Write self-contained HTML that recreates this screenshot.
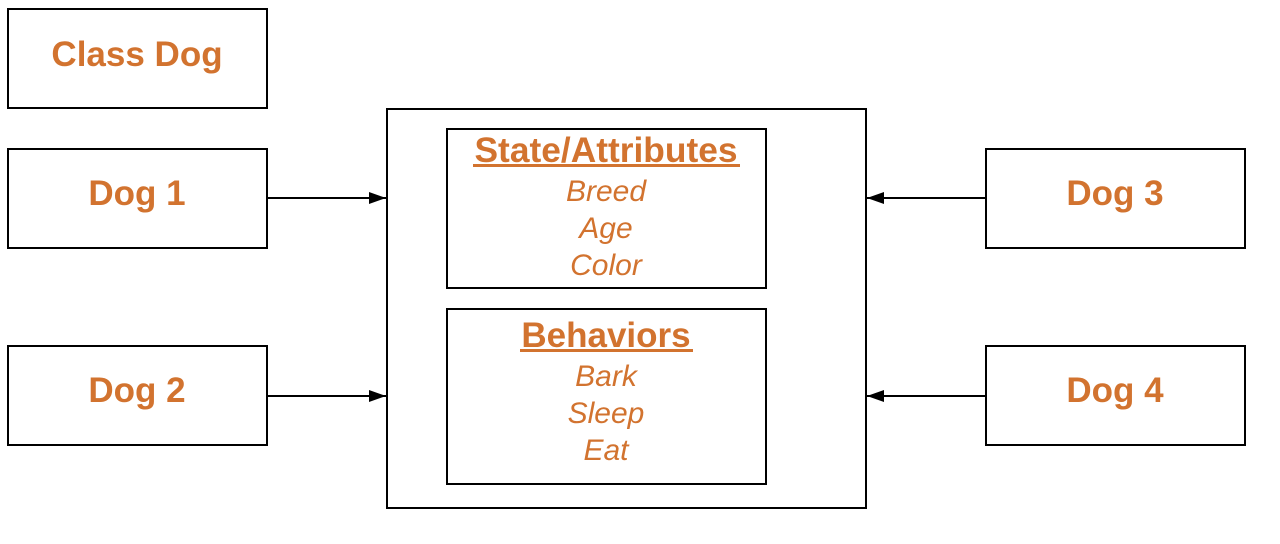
<!DOCTYPE html>
<html><head><style>body{margin:0;background:#fff}svg{display:block}</style></head>
<body>
<svg width="1280" height="544" xmlns="http://www.w3.org/2000/svg" font-family="Liberation Sans, sans-serif">
<defs><marker id="a" markerWidth="17" markerHeight="12" refX="17" refY="6" orient="auto" markerUnits="userSpaceOnUse"><path d="M0,0 L17,6 L0,12 z" fill="#000"/></marker></defs>
<g fill="none" stroke="#000" stroke-width="2">
<rect x="8" y="9" width="259" height="99"/>
<rect x="8" y="149" width="259" height="99"/>
<rect x="8" y="346" width="259" height="99"/>
<rect x="986" y="149" width="259" height="99"/>
<rect x="986" y="346" width="259" height="99"/>
<rect x="387" y="109" width="479" height="399"/>
<rect x="447" y="129" width="319" height="159"/>
<rect x="447" y="309" width="319" height="175"/>
<line x1="267" y1="198" x2="386" y2="198" marker-end="url(#a)"/>
<line x1="267" y1="396" x2="386" y2="396" marker-end="url(#a)"/>
<line x1="986" y1="198" x2="867" y2="198" marker-end="url(#a)"/>
<line x1="986" y1="396" x2="867" y2="396" marker-end="url(#a)"/>
</g>
<g fill="#d2732f" text-anchor="middle" font-weight="bold" font-size="35">
<text x="137" y="66">Class Dog</text>
<text x="137" y="205">Dog 1</text>
<text x="137" y="402">Dog 2</text>
<text x="1115" y="205">Dog 3</text>
<text x="1115" y="402">Dog 4</text>
<text x="606" y="162" textLength="263" lengthAdjust="spacingAndGlyphs">State/Attributes</text>
<text x="606" y="347">Behaviors</text>
</g>
<g fill="#d2732f"><rect x="473" y="164" width="267" height="3"/><rect x="520" y="349" width="173" height="3"/></g>
<g fill="#d2732f" text-anchor="middle" font-style="italic" font-size="30">
<text x="606" y="201">Breed</text>
<text x="606" y="238">Age</text>
<text x="606" y="275">Color</text>
<text x="606" y="386">Bark</text>
<text x="606" y="423">Sleep</text>
<text x="606" y="460">Eat</text>
</g>
</svg>
</body></html>
